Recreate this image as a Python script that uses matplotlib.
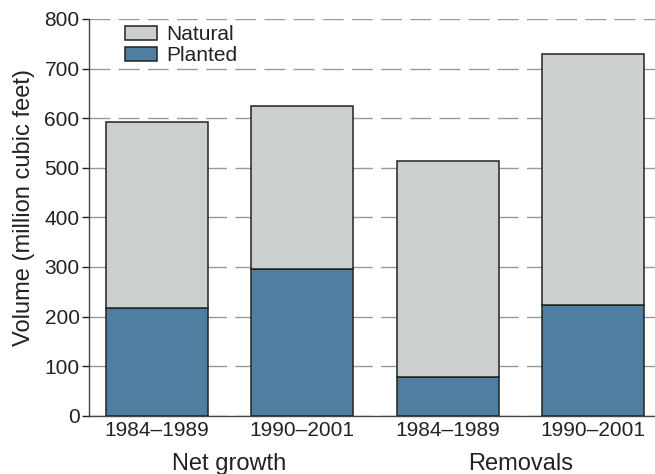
import numpy as np
import matplotlib
matplotlib.use("Agg")
import matplotlib.pyplot as plt

plt.rcParams['font.family'] = ['Liberation Sans', 'DejaVu Sans']

# --- data ---
periods  = ["1984–1989", "1990–2001", "1984–1989", "1990–2001"]
groups   = ["Net growth", "Removals"]
planted  = [217, 296, 79, 223]
total    = [592, 624, 514, 730]
natural  = [t - p for t, p in zip(total, planted)]

NATURAL_COLOR = "#cbcfce"
PLANTED_COLOR = "#4f7fa0"
EDGE = "#222222"
TEXT = "#222222"

fig = plt.figure(figsize=(6.55, 4.74), dpi=100)
ax = fig.add_axes([89.3 / 655, 1 - 415.7 / 474, (655 - 89.3) / 655, (415.7 - 19) / 474])

x = np.arange(len(periods))
ax.bar(x, planted, width=0.7, color=PLANTED_COLOR, edgecolor=EDGE, linewidth=1.1,
       label="Planted", zorder=3)
ax.bar(x, natural, width=0.7, bottom=planted, color=NATURAL_COLOR, edgecolor=EDGE,
       linewidth=1.1, label="Natural", zorder=3)

ax.set_ylim(0, 800)
ax.set_xlim(-0.463, 3.425)
ax.set_yticks(range(0, 801, 100))
ax.set_xticks(x)
ax.set_xticklabels(periods)
ax.tick_params(axis='x', length=0, labelsize=15, pad=4, colors=TEXT)
ax.tick_params(axis='y', length=5, width=1, labelsize=15, pad=2, colors=TEXT)

for s in ["top", "right"]:
    ax.spines[s].set_visible(False)
for s in ["left", "bottom"]:
    ax.spines[s].set_color("#444444")
    ax.spines[s].set_linewidth(1.0)

ax.yaxis.grid(True, linestyle=(0, (15, 6)), color="#999999", linewidth=1.0, zorder=0)
ax.set_axisbelow(True)

ax.set_ylabel("Volume (million cubic feet)", fontsize=17, color=TEXT)
ax.yaxis.set_label_coords(-0.096, 0.5236)

# group labels under the period labels
for i, g in enumerate(groups):
    ax.text(2 * i + 0.5, -0.137, g, transform=ax.get_xaxis_transform(),
            ha="center", va="baseline", fontsize=17, color=TEXT)

handles, labels = ax.get_legend_handles_labels()
leg = ax.legend(handles[::-1], labels[::-1], loc="upper left", frameon=False,
                fontsize=15, handlelength=1.55, handleheight=0.65,
                bbox_to_anchor=(0.063, 0.984), labelspacing=0.08, handletextpad=0.45,
                borderaxespad=0, borderpad=0)
for t in leg.get_texts():
    t.set_color(TEXT)

fig.savefig("out.png", dpi=100)
